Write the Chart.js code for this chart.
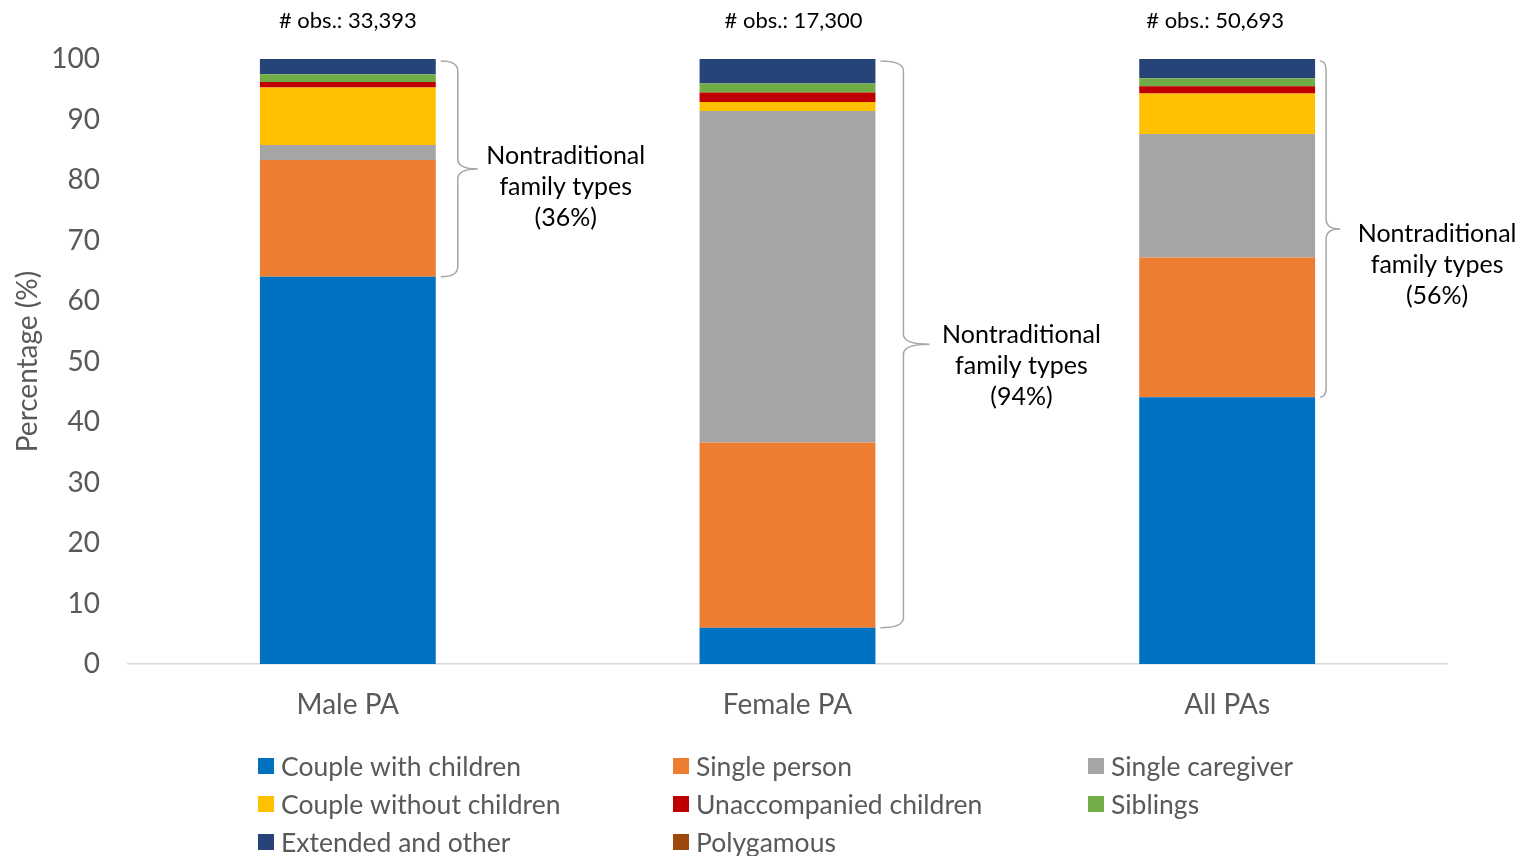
<!DOCTYPE html>
<html>
<head>
<meta charset="utf-8">
<script src="https://cdn.jsdelivr.net/npm/chart.js@4/dist/chart.umd.min.js"></script>
<style>
    html, body { margin: 0; padding: 0; background: #fff; }
    #wrap { width: 1522px; height: 856px; }
</style>
</head>
<body>
<div id="wrap"><canvas id="myChart" width="1522" height="856"></canvas></div>
<script>
// Данные
const categories = ['Male PA', 'Female PA', 'All PAs'];
const obsLabels = ['# obs.: 33,393', '# obs.: 17,300', '# obs.: 50,693'];
const nontraditional = ['36%', '94%', '56%'];

const coupleWithChildren = [64.0, 6.0, 44.1];
const singlePerson = [19.3, 30.6, 23.1];
const singleCaregiver = [2.5, 54.8, 20.4];
const coupleWithoutChildren = [9.5, 1.5, 6.7];
const unaccompaniedChildren = [0.9, 1.55, 1.2];
const siblings = [1.3, 1.5, 1.3];
const extendedOther = [2.5, 4.05, 3.2];
const polygamous = [0, 0, 0];

const yTicks = [0, 10, 20, 30, 40, 50, 60, 70, 80, 90, 100];

const FONT = 'Lato, "Open Sans", sans-serif';
const GREY_TEXT = '#595959';

const datasets = [
    { label: 'Couple with children', data: coupleWithChildren, backgroundColor: '#0070C0' },
    { label: 'Single person', data: singlePerson, backgroundColor: '#ED7D31' },
    { label: 'Single caregiver', data: singleCaregiver, backgroundColor: '#A5A5A5' },
    { label: 'Couple without children', data: coupleWithoutChildren, backgroundColor: '#FFC000' },
    { label: 'Unaccompanied children', data: unaccompaniedChildren, backgroundColor: '#C00000' },
    { label: 'Siblings', data: siblings, backgroundColor: '#70AD47' },
    { label: 'Extended and other', data: extendedOther, backgroundColor: '#264478' },
    { label: 'Polygamous', data: polygamous, backgroundColor: '#9E480E' }
];

// форма скобок: изгиб, острие, сдвиг текста; сдвиг подписи # obs.
const braceLayout = [
    { spine: 17, tip: 37, dx: 88, dy: 18, obsDx: 0 },
    { spine: 23, tip: 49, dx: 92, dy: 22, obsDx: 6 },
    { spine: 6, tip: 20, dx: 97, dy: 36, obsDx: -12 }
];

// скобки, подписи и легенда
const extrasPlugin = {
    id: 'extras',
    afterDraw(chart) {
        const ctx = chart.ctx;
        const x = chart.scales.x;
        const y = chart.scales.y;
        const meta0 = chart.getDatasetMeta(0);

        ctx.save();
        categories.forEach((cat, i) => {
            const bar = meta0.data[i];
            const half = bar.width / 2;
            const cx = x.getPixelForValue(i);
            const lay = braceLayout[i];

            // # obs.
            ctx.fillStyle = '#000';
            ctx.font = '22px ' + FONT;
            ctx.textAlign = 'center';
            ctx.textBaseline = 'middle';
            ctx.fillText(obsLabels[i], cx + lay.obsDx, 21);

            // скобка от верха синего сегмента до 100
            const yTop = y.getPixelForValue(100) + 2;
            const yBot = y.getPixelForValue(coupleWithChildren[i]);
            const yMid = (yTop + yBot) / 2;
            const x0 = cx + half + 5;
            const xs = x0 + lay.spine;
            const xt = x0 + lay.tip;
            const r = 10;
            ctx.strokeStyle = '#a6a6a6';
            ctx.lineWidth = 1.5;
            ctx.beginPath();
            ctx.moveTo(x0, yTop);
            ctx.quadraticCurveTo(xs, yTop, xs, yTop + r);
            ctx.lineTo(xs, yMid - r);
            ctx.quadraticCurveTo(xs, yMid, xt, yMid);
            ctx.quadraticCurveTo(xs, yMid, xs, yMid + r);
            ctx.lineTo(xs, yBot - r);
            ctx.quadraticCurveTo(xs, yBot, x0, yBot);
            ctx.stroke();

            const tx = xt + lay.dx;
            const ty = yMid + lay.dy;
            ctx.fillStyle = '#000';
            ctx.font = '25px ' + FONT;
            ['Nontraditional', 'family types', '(' + nontraditional[i] + ')'].forEach((line, k) => {
                ctx.fillText(line, tx, ty + (k - 1) * 31);
            });
        });

        // легенда: 3 колонки
        const colX = [258, 673, 1088];
        const rowY = [766, 804, 842];
        ctx.font = '26.5px ' + FONT;
        ctx.textAlign = 'left';
        ctx.textBaseline = 'middle';
        chart.data.datasets.forEach((ds, j) => {
            const lx = colX[j % 3];
            const ly = rowY[Math.floor(j / 3)];
            ctx.fillStyle = ds.backgroundColor;
            ctx.fillRect(lx, ly - 8, 16, 16);
            ctx.fillStyle = GREY_TEXT;
            ctx.fillText(ds.label, lx + 23, ly + 1);
        });
        ctx.restore();
    }
};

const ctx = document.getElementById('myChart').getContext('2d');
const myChart = new Chart(ctx, {
    type: 'bar',
    data: {
        labels: categories,
        datasets: datasets.map(d => Object.assign({ barPercentage: 0.4, categoryPercentage: 1.0, borderWidth: 0 }, d))
    },
    options: {
        responsive: false,
        animation: false,
        layout: { padding: { left: 0, top: 59, right: 75, bottom: 0 } },
        scales: {
            x: {
                stacked: true,
                grid: { display: false, drawTicks: false },
                border: { display: true, color: '#d9d9d9', width: 1.5 },
                ticks: { color: GREY_TEXT, font: { family: FONT, size: 28 }, padding: 24 },
                afterFit(scale) { scale.height = 856 - 664; }
            },
            y: {
                stacked: true,
                min: 0,
                max: 100,
                afterBuildTicks(scale) { scale.ticks = yTicks.map(v => ({ value: v })); },
                grid: { display: false, drawTicks: false },
                border: { display: false },
                ticks: { color: GREY_TEXT, font: { family: FONT, size: 28 }, padding: 28 },
                title: {
                    display: true,
                    text: 'Percentage (%)',
                    color: GREY_TEXT,
                    font: { family: FONT, size: 28 },
                    padding: { top: 11, bottom: 0 }
                },
                afterFit(scale) { scale.width = 128; }
            }
        },
        plugins: {
            legend: { display: false },
            tooltip: { enabled: false }
        }
    },
    plugins: [extrasPlugin]
});
</script>
</body>
</html>
